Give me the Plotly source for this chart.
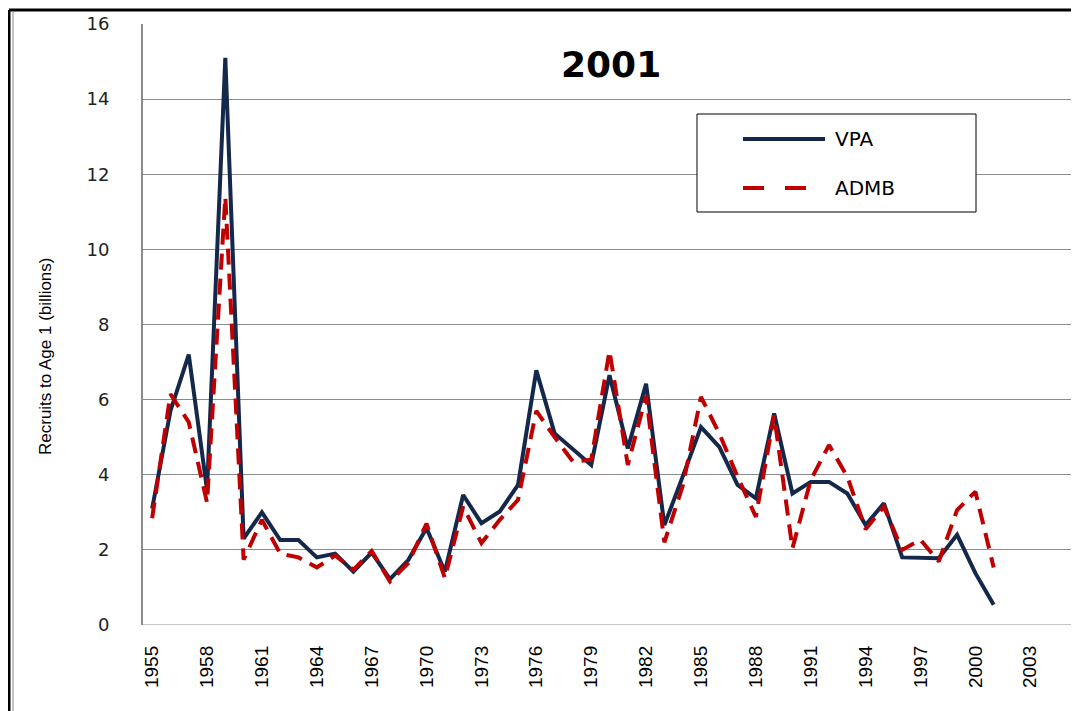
import plotly.graph_objects as go

# Recruitment estimates, 2001 assessment
years = list(range(1955, 2002))

vpa = [3.1, 5.7, 7.2, 3.6, 15.1, 2.3, 3.0, 2.26, 2.26, 1.8,
       1.9, 1.42, 1.93, 1.22, 1.73, 2.58, 1.42, 3.46, 2.71, 3.02,
       3.73, 6.78, 5.1, 4.67, 4.26, 6.65, 4.7, 6.42, 2.66, 3.95,
       5.27, 4.74, 3.73, 3.37, 5.63, 3.5, 3.81, 3.81, 3.5, 2.66,
       3.24, 1.8, 1.8, 1.78, 2.4, 1.38, 0.54]

admb = [2.84, 6.15, 5.4, 3.26, 11.4, 1.74, 2.8, 1.9, 1.8, 1.53,
        1.85, 1.47, 1.97, 1.16, 1.65, 2.7, 1.25, 3.15, 2.18, 2.8,
        3.33, 5.7, 5.0, 4.35, 4.4, 7.3, 4.26, 6.1, 2.2, 3.7,
        6.07, 5.1, 3.95, 2.88, 5.58, 2.04, 3.86, 4.79, 3.95, 2.55,
        3.15, 2.0, 2.27, 1.69, 3.06, 3.55, 1.53]

tick_years = list(range(1955, 2004, 3))
y_ticks = list(range(0, 17, 2))

navy = "#14284b"
red = "#c00000"

# the page adds an 8px body margin, so the figure is shrunk by that much
OFF = 8
W, H = 1079 - OFF, 711 - OFF
# plot area in page pixels
L, R, T, B = 143, 1076, 24, 625


def px(x):
    return (x - L) / (R - L)


def py(y):
    return (B - y) / (B - T)


fig = go.Figure()
fig.add_trace(go.Scatter(x=years, y=vpa, mode="lines", name="VPA",
                         line=dict(color=navy, width=4), showlegend=False))
fig.add_trace(go.Scatter(x=years, y=admb, mode="lines", name="ADMB",
                         line=dict(color=red, width=4, dash="16px,9px"),
                         showlegend=False))

shapes = [
    # outer frame (top and left edges of the chart object)
    dict(type="line", xref="paper", yref="paper", x0=px(9), x1=px(1080), y0=py(10), y1=py(10),
         line=dict(color="black", width=3)),
    dict(type="line", xref="paper", yref="paper", x0=px(9), x1=px(9), y0=py(10), y1=py(712),
         line=dict(color="black", width=3)),
    dict(type="line", xref="paper", yref="paper", x0=px(13), x1=px(13), y0=py(12), y1=py(712),
         line=dict(color="#888", width=1)),
    # legend box
    dict(type="rect", xref="paper", yref="paper", x0=px(697), x1=px(976), y0=py(212), y1=py(114),
         line=dict(color="black", width=1), fillcolor="white", layer="above"),
    dict(type="line", xref="paper", yref="paper", x0=px(743), x1=px(825), y0=py(139), y1=py(139),
         line=dict(color=navy, width=4), layer="above"),
    dict(type="line", xref="paper", yref="paper", x0=px(743), x1=px(825), y0=py(188), y1=py(188),
         line=dict(color=red, width=4, dash="21px,21px"), layer="above"),
]

annotations = [
    dict(text="<b>2001</b>", xref="paper", yref="paper", x=px(611), y=py(64),
         xanchor="center", yanchor="middle", showarrow=False,
         font=dict(family="DejaVu Sans", size=36, color="black")),
    dict(text="Recruits to Age 1 (billions)", xref="paper", yref="paper", x=px(46), y=py(357),
         xanchor="center", yanchor="middle", showarrow=False, textangle=-90,
         font=dict(family="Liberation Sans Narrow, Arial Narrow, sans-serif", size=17, color="black")),
    dict(text="VPA", xref="paper", yref="paper", x=px(833), y=py(139),
         xanchor="left", yanchor="middle", showarrow=False,
         font=dict(family="DejaVu Sans", size=20, color="black")),
    dict(text="ADMB", xref="paper", yref="paper", x=px(833), y=py(188),
         xanchor="left", yanchor="middle", showarrow=False,
         font=dict(family="DejaVu Sans", size=20, color="black")),
]

fig.update_layout(
    width=W, height=H,
    margin=dict(l=L - OFF, r=W - (R - OFF), t=T - OFF, b=H - (B - OFF)),
    paper_bgcolor="white", plot_bgcolor="white",
    shapes=shapes, annotations=annotations,
    xaxis=dict(range=[1954.5, 2005.5], tickvals=tick_years, tickangle=-90,
               showgrid=False, zeroline=False, showline=False, ticks="",
               ticklabelstandoff=16,
               tickfont=dict(family="Liberation Sans Narrow, Arial Narrow, sans-serif",
                             size=19, color="black")),
    yaxis=dict(range=[0, 16], tickvals=y_ticks, showgrid=True, gridcolor="#8c8c8c",
               gridwidth=1, zeroline=False, showline=True, linecolor="#8c8c8c",
               linewidth=2, ticks="", ticklabelstandoff=28,
               tickfont=dict(family="DejaVu Sans", size=18, color="#222")),
)
# bottom axis line drawn as a grid-coloured line at zero
fig.add_hline(y=0, line=dict(color="#8c8c8c", width=1))

fig.write_html("out.html")
